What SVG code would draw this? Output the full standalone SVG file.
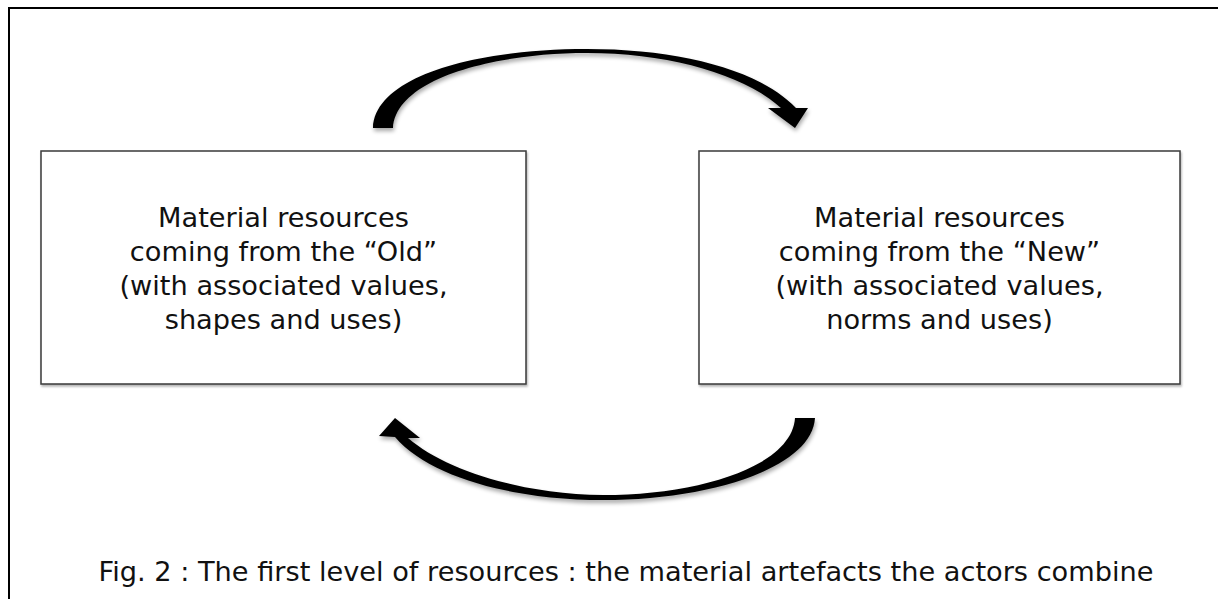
<svg xmlns="http://www.w3.org/2000/svg" width="1218" height="599" viewBox="0 0 1218 599">
  <style>
    .box { fill: #ffffff; stroke: #3a3a3a; stroke-width: 1.5; }
    .lbl { font-family: "DejaVu Sans", "Liberation Sans", sans-serif; font-size: 27.2px; fill: #111111; text-anchor: middle; }
    .arrow { fill: #000000; filter: url(#shadow); }
    .frame { fill: none; stroke: #000000; stroke-width: 2; }
  </style>
  <defs>
    <filter id="shadow" x="-10%" y="-20%" width="120%" height="150%">
      <feGaussianBlur in="SourceAlpha" stdDeviation="2"/>
      <feOffset dx="1" dy="3" result="b"/>
      <feComponentTransfer><feFuncA type="linear" slope="0.35"/></feComponentTransfer>
      <feMerge><feMergeNode/><feMergeNode in="SourceGraphic"/></feMerge>
    </filter>
    <filter id="boxshadow" x="-5%" y="-5%" width="110%" height="115%">
      <feGaussianBlur in="SourceAlpha" stdDeviation="1.2"/>
      <feOffset dx="1" dy="2" result="b"/>
      <feComponentTransfer><feFuncA type="linear" slope="0.3"/></feComponentTransfer>
      <feMerge><feMergeNode/><feMergeNode in="SourceGraphic"/></feMerge>
    </filter>
  </defs>
  <rect width="1218" height="599" fill="#ffffff"/>
  <g id="frame">
    <path class="frame" d="M1220,8 L9,8 L9,601"/>
  </g>
  <g id="node-old">
    <rect class="box" x="41" y="151" width="485" height="233" filter="url(#boxshadow)"/>
    <text class="lbl" x="283.5" y="227">Material resources</text>
    <text class="lbl" x="283.5" y="261">coming from the “Old”</text>
    <text class="lbl" x="283.5" y="295">(with associated values,</text>
    <text class="lbl" x="283.5" y="329">shapes and uses)</text>
  </g>
  <g id="node-new">
    <rect class="box" x="699" y="151" width="481" height="233" filter="url(#boxshadow)"/>
    <text class="lbl" x="939.5" y="227">Material resources</text>
    <text class="lbl" x="939.5" y="261">coming from the “New”</text>
    <text class="lbl" x="939.5" y="295">(with associated values,</text>
    <text class="lbl" x="939.5" y="329">norms and uses)</text>
  </g>
  <g id="connectors">
    <path class="arrow" d="M373,128 C375,75 480,49 587,49 C680,49 760,70 796,108 L808,108 L795,128 L768,108 L781,108 C745,75 670,53 587,53 C495,53 396,78 393,128 Z"/>
    <path class="arrow" d="M815,418 C812,468 710,500 603,500 C515,500 430,478 395,437 L379,436 L395,418 L420,438 L408,438 C445,470 520,494 603,495 C700,495 792,466 795,418 Z"/>
  </g>
  <g id="caption">
    <text class="lbl" x="626" y="581">Fig. 2 : The first level of resources : the material artefacts the actors combine</text>
  </g>
</svg>
